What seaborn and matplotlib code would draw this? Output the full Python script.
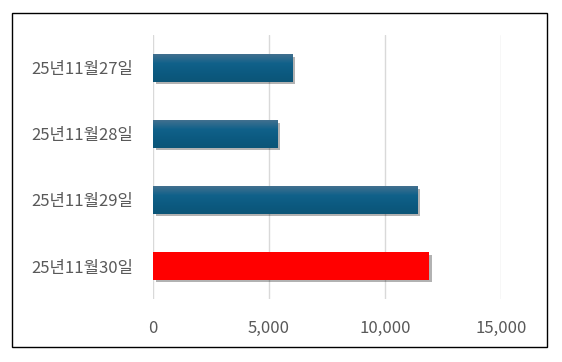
import matplotlib
matplotlib.use("Agg")
import matplotlib.pyplot as plt
import matplotlib.patheffects as pe
from matplotlib.colors import LinearSegmentedColormap
import numpy as np
import pandas as pd
import seaborn as sns

categories = ["25년11월27일", "25년11월28일", "25년11월29일", "25년11월30일"]
values = [6000, 5350, 11400, 11900]
bar_colors = ["#0F5C82", "#0F5C82", "#0F5C82", "#FF0000"]
xticks = [0, 5000, 10000, 15000]
xtick_labels = ["0", "5,000", "10,000", "15,000"]

sns.set_theme(style="white")
plt.rcParams['font.family'] = ['Noto Sans CJK KR', 'DejaVu Sans']

W, H = 562, 362
fig = plt.figure(figsize=(W / 100, H / 100), dpi=100)
ax = fig.add_axes([153 / W, 1 - 299 / H, (501 - 153) / W, (299 - 35) / H])

df = pd.DataFrame({"date": categories, "value": values})
sns.barplot(data=df, x="value", y="date", hue="date", palette=bar_colors,
            width=0.41, legend=False, ax=ax, saturation=1)

cmap = LinearSegmentedColormap.from_list("g", ["#41708F", "#10618A", "#0C5A80", "#0B5577"])
grad = np.linspace(0, 1, 64).reshape(-1, 1)
for i, p in enumerate(ax.patches):
    p.set_path_effects([pe.SimplePatchShadow(offset=(2, -2), shadow_rgbFace="#000000", alpha=0.3), pe.Normal()])
    p.set_edgecolor("none")
    if i < 3:
        x0, y0 = p.get_x(), p.get_y()
        w, h = p.get_width(), p.get_height()
        im = ax.imshow(grad, cmap=cmap, aspect="auto",
                       extent=[x0, x0 + w, y0 + h, y0], zorder=p.get_zorder() + 0.1)
        im.set_clip_path(p)

ax.set_xlim(0, 15000)
ax.set_ylim(3.5, -0.5)
ax.set_xticks(xticks)
ax.set_xticklabels(xtick_labels)
ax.set_xlabel("")
ax.set_ylabel("")
ax.grid(axis="x", color="#D9D9D9", linewidth=1)
ax.set_axisbelow(True)
for s in ax.spines.values():
    s.set_visible(False)
ax.tick_params(axis="both", length=0, labelsize=12, colors="#595959")
ax.tick_params(axis="y", pad=14)
ax.tick_params(axis="x", pad=15)

border = plt.Rectangle((12 / W, 1 - 347 / H), (547 - 12) / W, (347 - 13) / H,
                       transform=fig.transFigure, fill=False, edgecolor="black", linewidth=1)
fig.patches.append(border)

fig.savefig("out.png", dpi=100)
